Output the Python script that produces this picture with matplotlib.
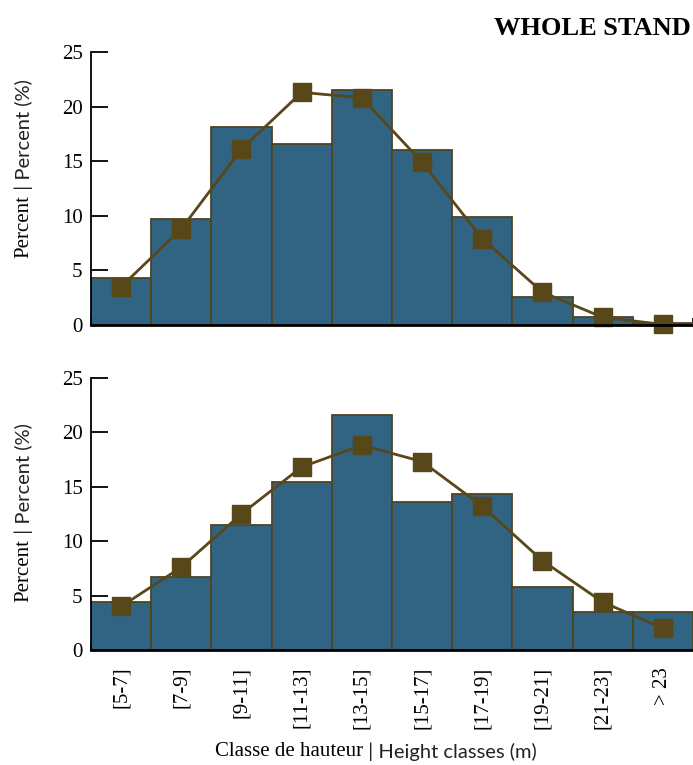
import matplotlib
matplotlib.use("Agg")
import matplotlib.pyplot as plt
import numpy as np

classes = ["[5-7]", "[7-9]", "[9-11]", "[11-13]", "[13-15]", "[15-17]",
           "[17-19]", "[19-21]", "[21-23]", "> 23"]

# top panel
top_bars = [4.3, 9.7, 18.1, 16.6, 21.5, 16.0, 9.9, 2.6, 0.7, 0.15]
top_line = [3.5, 8.8, 16.1, 21.3, 20.8, 14.9, 7.9, 3.0, 0.7, 0.05]

# bottom panel
bot_bars = [4.4, 6.7, 11.5, 15.4, 21.6, 13.6, 14.3, 5.75, 3.45, 3.45]
bot_line = [4.0, 7.6, 12.5, 16.8, 18.8, 17.3, 13.2, 8.2, 4.4, 2.0]

BAR_COLOR = "#316383"
EDGE_COLOR = "#4f4420"
LINE_COLOR = "#574719"
SERIF = ["Liberation Serif", "DejaVu Serif"]
SANS = ["Lato", "DejaVu Sans"]

fig = plt.figure(figsize=(6.93, 7.65), dpi=100)
ax_top = fig.add_axes([0.1313, 0.5752, 0.8687, 0.3569])
ax_bot = fig.add_axes([0.1313, 0.1503, 0.8687, 0.3560])


def draw_panel(ax, bars, line, show_labels, label_y):
    x = np.arange(len(bars))
    ax.bar(x, bars, width=1.0, color=BAR_COLOR, edgecolor=EDGE_COLOR,
           linewidth=1.3, zorder=2)
    ax.plot(x, line, color=LINE_COLOR, linewidth=2, marker="s",
            markersize=13, zorder=3, clip_on=False)
    ax.set_xlim(-0.5, len(bars) - 0.5)
    ax.set_ylim(0, 25)
    ax.set_yticks([0, 5, 10, 15, 20, 25])
    ax.set_yticklabels(["0", "5", "10", "15", "20", "25"], family=SERIF, fontsize=15)
    ax.tick_params(axis="y", direction="in", length=12, width=1.3, pad=6)
    ax.set_xticks(x)
    ax.set_xticks(np.arange(len(bars) + 1) - 0.5, minor=True)
    ax.tick_params(axis="x", which="major", length=0, pad=12)
    ax.tick_params(axis="x", which="minor", direction="in", length=5, width=1.2,
                   color="black")
    if show_labels:
        ax.set_xticklabels(classes, rotation=90, family=SERIF, fontsize=15,
                           va="top")
    else:
        ax.set_xticklabels([])
    for s in ["top", "right"]:
        ax.spines[s].set_visible(False)
    ax.spines["left"].set_linewidth(1.3)
    ax.spines["bottom"].set_linewidth(2)
    ax.spines["bottom"].set_zorder(4)

    # mixed-font y label
    t1 = ax.text(-0.111, label_y, "Percent", rotation=90, transform=ax.transAxes,
                 family=SERIF, fontsize=15, ha="center", va="bottom")
    ax.annotate(" | Percent (%)", xy=(0.5, 1.0), xycoords=t1, rotation=90,
                family=SANS, fontsize=14.5, color="#222222",
                ha="center", va="bottom")


draw_panel(ax_top, top_bars, top_line, False, 0.245)
draw_panel(ax_bot, bot_bars, bot_line, True, 0.178)

fig.text(0.997, 0.963, "WHOLE STAND", family=SERIF, fontweight="bold",
         fontsize=19, ha="right", va="center")

x1 = fig.text(0.31, 0.012, "Classe de hauteur", family=SERIF, fontsize=15,
              ha="left", va="baseline")
ax_bot.annotate(" | Height classes (m)", xy=(1.0, 0.0), xycoords=x1,
                family=SANS, fontsize=14.5, color="#222222",
                ha="left", va="bottom")

fig.savefig("out.png", dpi=100)
